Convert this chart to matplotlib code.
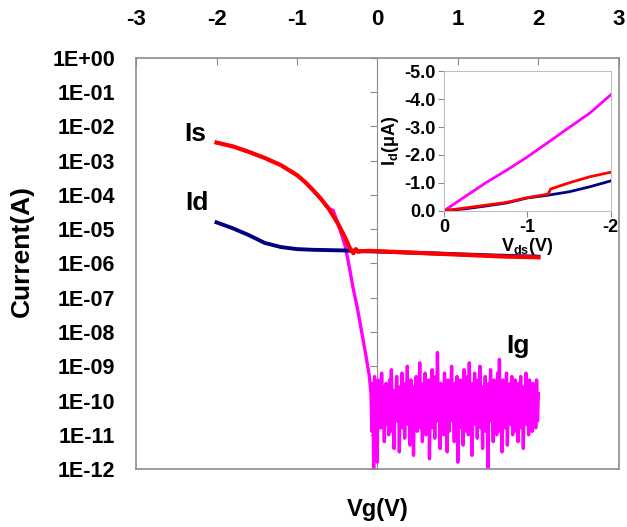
import numpy as np
import matplotlib
matplotlib.use("Agg")
import matplotlib.pyplot as plt
from matplotlib.ticker import FixedLocator, FuncFormatter, NullLocator

plt.rcParams['font.family'] = ['Liberation Sans', 'DejaVu Sans']
plt.rcParams['font.weight'] = 'bold'
plt.rcParams['axes.unicode_minus'] = False
plt.rcParams['mathtext.fontset'] = 'custom'
plt.rcParams['mathtext.bf'] = 'Liberation Sans:bold'
plt.rcParams['mathtext.rm'] = 'Liberation Sans:bold'
plt.rcParams['mathtext.default'] = 'bf'

# main transfer curves (log10 of current in A)
vg_is = [-2.0, -1.8, -1.6, -1.4, -1.2, -1.0, -0.9, -0.8, -0.7, -0.6, -0.5, -0.45,
         -0.4, -0.35, -0.3, -0.27, -0.24, -0.2, -0.1, 0.0, 0.2, 0.4, 0.6, 0.8, 1.0,
         1.2, 1.4, 1.6, 1.8, 2.0]
log_is = [-2.47, -2.58, -2.74, -2.92, -3.13, -3.42, -3.62, -3.86, -4.12, -4.42, -4.80, -5.02,
          -5.25, -5.52, -5.70, -5.58, -5.66, -5.64, -5.63, -5.64, -5.66, -5.68, -5.70, -5.72, -5.74,
          -5.76, -5.78, -5.80, -5.81, -5.82]

vg_id = [-2.0, -1.8, -1.6, -1.4, -1.2, -1.0, -0.8, -0.6, -0.4, -0.2, 0.0, 0.5, 1.0, 1.5, 2.0]
log_id = [-4.80, -4.97, -5.17, -5.40, -5.52, -5.58, -5.60, -5.61, -5.62, -5.64, -5.65,
          -5.69, -5.73, -5.77, -5.80]

vg_ig_on = [-2.0, -1.8, -1.6, -1.4, -1.2, -1.0, -0.9, -0.8, -0.7, -0.6, -0.55, -0.5,
            -0.45, -0.4, -0.35, -0.3, -0.25, -0.2, -0.15, -0.1]
log_ig_on = [-2.47, -2.58, -2.74, -2.92, -3.13, -3.42, -3.62, -3.86, -4.12, -4.40, -4.45, -4.78,
             -5.12, -5.50, -6.10, -6.75, -7.30, -7.95, -8.60, -9.30]
log_ig_off = [
    -9.8, -10.9, -9.5, -12.0, -9.3, -10.6, -9.9, -11.8, -9.4, -10.4, -9.7, -10.8, -9.2, -10.5, -9.6, -11.2, -10.0, -9.5, -10.7, -9.8,
    -11.0, -9.4, -10.3, -9.1, -10.9, -9.7, -11.4, -9.9, -10.2, -9.3, -10.6, -9.6, -11.5, -9.8, -10.4, -9.2, -10.8, -9.7, -11.1, -9.5,
    -10.5, -9.0, -10.7, -9.8, -11.3, -9.4, -10.2, -9.6, -11.6, -9.9, -10.6, -9.3, -10.9, -9.7, -10.3, -8.9, -10.8, -9.5, -11.2, -9.8,
    -10.4, -9.2, -11.0, -9.6, -10.5, -9.4, -11.7, -9.9, -10.3, -9.1, -10.8, -9.6, -11.1, -9.3, -10.6, -8.6, -10.2, -9.7, -11.4, -9.5,
    -10.7, -9.8, -11.0, -9.2, -10.4, -9.6, -11.5, -9.4, -10.9, -9.7, -10.3, -9.0, -10.6, -9.8, -11.2, -9.5, -10.5, -9.3, -11.8, -9.9,
    -10.2, -9.4, -10.8, -9.7, -11.3, -9.1, -10.6, -9.6, -10.9, -9.3, -11.0, -8.9, -10.4, -9.8, -11.6, -9.5, -10.7, -9.2, -10.3, -9.7,
    -11.1, -9.4, -10.5, -9.0, -10.8, -9.6, -11.4, -9.8, -10.2, -9.3, -10.9, -9.7, -12.0, -9.5, -10.6, -9.1, -10.4, -9.8, -11.2, -9.4,
    -10.7, -9.6, -11.0, -9.2, -10.5, -8.8, -10.9, -9.7, -11.5, -9.4, -10.3, -9.6, -10.8, -9.2, -11.3, -9.9, -10.4, -9.5, -10.7, -9.3,
    -11.0, -9.7, -10.5, -9.4, -10.9, -9.8, -11.2, -9.5, -10.6, -9.3, -10.8, -9.9, -11.4, -9.6, -10.4, -9.2, -10.7, -9.8, -11.0, -9.4,
    -10.5, -9.7, -10.9, -9.5, -10.3, -9.6, -10.8, -9.4, -10.6, -9.8]

# inset output curves (uA)
vds = [0.0, -0.25, -0.5, -0.75, -1.0, -1.25, -1.5, -1.75, -2.0]
id_magenta = [0.0, -0.50, -1.00, -1.45, -1.93, -2.45, -2.98, -3.50, -4.15]
vds_red = [0.0, -0.25, -0.5, -0.75, -1.0, -1.2, -1.25, -1.28, -1.5, -1.75, -2.0]
id_red = [0.0, -0.10, -0.20, -0.30, -0.47, -0.57, -0.60, -0.78, -1.00, -1.22, -1.38]
id_blue = [0.0, -0.07, -0.17, -0.28, -0.46, -0.56, -0.68, -0.86, -1.07]

grey = '#8c8c8c'

fig = plt.figure(figsize=(6.27, 5.27), dpi=100)
ax = fig.add_axes([0.217, 0.110, 0.770, 0.780])

vg_ig_off = np.linspace(-0.08, 2.0, len(log_ig_off))
vg_ig = list(vg_ig_on) + list(vg_ig_off)
ig = 10 ** np.array(list(log_ig_on) + list(log_ig_off))

ax.plot(vg_ig, ig, color='#ff00ff', lw=2.4)
ax.plot(vg_id, 10 ** np.array(log_id), color='#000080', lw=2.8)
ax.plot(vg_is, 10 ** np.array(log_is), color='#ff0000', lw=3.0)

ax.set_yscale('log')
ax.set_ylim(1e-12, 1)
ax.set_xlim(-3, 3)
for s in ax.spines.values():
    s.set_color(grey)
    s.set_linewidth(1.2)

ax.xaxis.tick_top()
ax.set_xticks([-3, -2, -1, 0, 1, 2, 3])
ax.tick_params(axis='x', direction='in', length=5, color=grey, pad=20, labelsize=16)
ax.yaxis.set_major_locator(FixedLocator([10.0 ** k for k in range(-12, 1)]))
ax.yaxis.set_minor_locator(NullLocator())
ax.yaxis.set_major_formatter(FuncFormatter(lambda v, p: f"{v:.0E}"))
ax.tick_params(axis='y', length=0, pad=15, labelsize=15.5)

# y axis line crossing at Vg = 0
sec = ax.secondary_yaxis(0.5)
sec.spines['left'].set_color(grey)
sec.spines['right'].set_color(grey)
sec.yaxis.set_major_locator(FixedLocator([10.0 ** k for k in range(-12, 1)]))
sec.yaxis.set_minor_locator(NullLocator())
sec.tick_params(axis='y', which='both', left=True, right=False, labelleft=False,
                labelright=False, direction='out', length=5, color=grey)

ax.set_xlabel('Vg(V)', fontsize=17, fontweight='bold')
ax.xaxis.set_label_position('bottom')
ax.xaxis.labelpad = 21
ax.set_ylabel('Current(A)', fontsize=19, fontweight='bold')
ax.yaxis.set_label_coords(-0.212, 0.53)

ax.text(-2.27, 6e-3, 'Is', fontsize=19, fontweight='bold', ha='center', va='center')
ax.text(-2.24, 6e-5, 'Id', fontsize=19, fontweight='bold', ha='center', va='center')
ax.text(1.75, 4e-9, 'Ig', fontsize=19, fontweight='bold', ha='center', va='center')

# inset: output characteristics
ins = fig.add_axes([0.708, 0.600, 0.266, 0.265])
ins.plot(vds, id_magenta, color='#ff00ff', lw=2.0)
ins.plot(vds, id_blue, color='#000080', lw=2.0)
ins.plot(vds_red, id_red, color='#ff0000', lw=2.0)
ins.set_xlim(0, -2)
ins.set_ylim(0, -5)
ins.set_xticks([0, -1, -2])
ins.set_xticklabels(['0', '-1', '-2'])
ins.set_yticks([0, -1, -2, -3, -4, -5])
ins.set_yticklabels(['0.0', '-1.0', '-2.0', '-3.0', '-4.0', '-5.0'])
for s in ins.spines.values():
    s.set_color('#c0c0c0')
ins.tick_params(direction='out', length=4, color=grey, labelsize=13, pad=2)
ins.set_xlabel('V$_{ds}$(V)', fontsize=13, fontweight='bold', labelpad=0)
ins.set_ylabel('I$_{d}$(\u03bcA)', fontsize=13, fontweight='bold', labelpad=2)

plt.savefig('out.png', dpi=100)
